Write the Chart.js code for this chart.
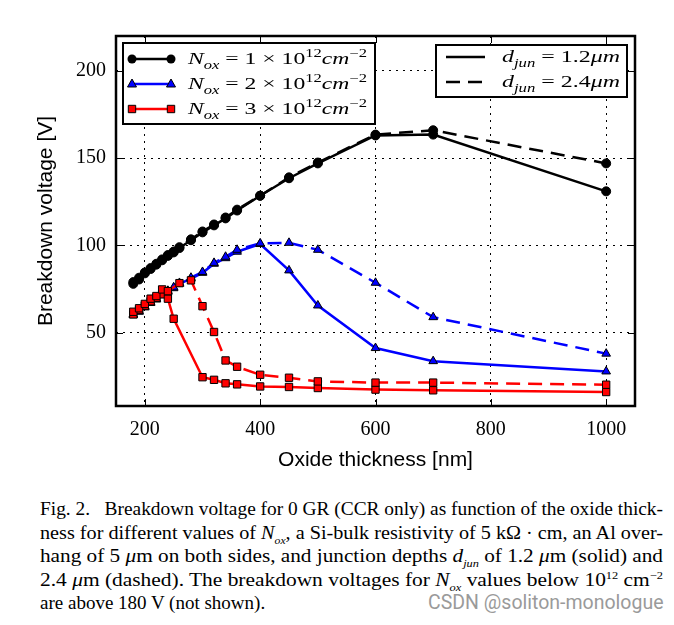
<!DOCTYPE html>
<html>
<head>
<meta charset="utf-8">
<script src="https://cdn.jsdelivr.net/npm/chart.js@4.4.0/dist/chart.umd.min.js"></script>
<style>
  body { margin: 0; background: #fff; width: 674px; height: 625px; overflow: hidden; position: relative; }
  #wrap { position: absolute; left: 0; top: 0; width: 674px; height: 480px; }
  #caption { position: absolute; left: 40px; top: 497px; width: 623px; font-family: 'Liberation Serif', serif; font-size: 19px; line-height: 23.5px; color: #000; }
  #caption div { white-space: nowrap; }
  #caption .j { display: inline-block; transform-origin: 0 0; }
  #caption i { font-style: italic; }
  #caption sub, #caption sup { font-size: 11px; line-height: 0; }
  #mark { position: absolute; left: 428px; top: 591px; font-family: 'Roboto', 'Liberation Sans', sans-serif; font-size: 19.5px; color: #9a9a9a; }
</style>
</head>
<body>
<div id="wrap"><canvas id="chart" width="674" height="480"></canvas></div>
<div id="caption">
  <div><span class="j">Fig. 2.&nbsp;&nbsp; Breakdown voltage for 0 GR (CCR only) as function of the oxide thick-</span></div>
  <div><span class="j">ness for different values of <i>N</i><sub><i>ox</i></sub>, a Si-bulk resistivity of 5 kΩ · cm, an Al over-</span></div>
  <div><span class="j">hang of 5 <i>μ</i>m on both sides, and junction depths <i>d</i><sub><i>jun</i></sub> of 1.2 <i>μ</i>m (solid) and</span></div>
  <div><span class="j">2.4 <i>μ</i>m (dashed). The breakdown voltages for <i>N</i><sub><i>ox</i></sub> values below 10<sup>12</sup> cm<sup>−2</sup></span></div>
  <div>are above 180 V (not shown).</div>
</div>
<div id="mark">CSDN @soliton-monologue</div>
<script>
  // oxide thickness [nm]
  const xAll = [180, 190, 200, 210, 220, 230, 240, 250, 260, 280, 300, 320, 340, 360, 400, 450, 500, 600, 700, 1000];
  const xRedSolid = [180, 190, 200, 210, 220, 230, 240, 250, 300, 320, 340, 360, 400, 450, 500, 600, 700, 1000];
  const xRedDashed = [180, 190, 200, 210, 220, 230, 240, 260, 280, 300, 320, 340, 360, 400, 450, 500, 600, 700, 1000];

  // breakdown voltage [V]
  const nox1Solid  = [78, 80.5, 84, 86.5, 89, 91.5, 94, 96, 98.5, 103, 107.5, 111.5, 115.5, 120, 128.5, 138.5, 147, 163, 163.5, 131];
  const nox1Dashed = [79, 81.5, 84.5, 87, 89.5, 92, 94.5, 96.5, 99, 103.5, 108, 112, 116, 120.5, 128.5, 139, 147.5, 163.5, 166, 147];
  const nox2Solid  = [60, 62, 64.5, 67, 69, 71.5, 73.5, 75.5, 78, 81, 84.3, 89.5, 92.7, 96.4, 100.8, 85.7, 65.6, 41.2, 33.7, 27.8];
  const nox2Dashed = [60.5, 62.5, 65, 67.5, 69.5, 72, 74, 76, 78.5, 81.5, 84.8, 90, 93.5, 97.5, 101.2, 101.5, 97.5, 78.6, 58.9, 38];
  const nox3Solid  = [60.5, 63, 65.5, 68, 70, 72, 69.5, 58, 24.5, 23, 21, 20.4, 19.2, 18.9, 18.3, 17.4, 17, 16];
  const nox3Dashed = [62, 64, 66.5, 69.5, 71, 74.8, 73.8, 78.4, 80, 65.2, 50.4, 34.1, 30.5, 25.9, 24.2, 22.1, 21.4, 21.4, 20.2];

  const xTicks = [200, 400, 600, 800, 1000];
  const yTicks = [50, 100, 150, 200];

  // legend texts (math parts)
  const noxLabels = ['1', '2', '3'];
  const djunLabels = ['1.2', '2.4'];

  // stretch justified caption lines to the full width
  document.querySelectorAll('#caption .j').forEach(el => {
    const w = el.getBoundingClientRect().width;
    el.style.transform = 'scaleX(' + (623 / w) + ')';
  });

  const pts = (xs, ys) => xs.map((x, i) => ({ x: x, y: ys[i] }));
  const dash = [14, 8];

  function series(data, color, style, fill, radius, dashed) {
    return {
      data: data,
      borderColor: color,
      borderWidth: 2.5,
      borderDash: dashed ? dash : [],
      pointStyle: style,
      pointRadius: radius,
      pointBackgroundColor: fill,
      pointBorderColor: '#000',
      pointBorderWidth: 1,
      tension: 0,
      fill: false
    };
  }

  // first in list = drawn on top
  const datasets = [
    series(pts(xRedDashed, nox3Dashed), '#ff0000', 'rect', '#ff0000', 5.2, true),
    series(pts(xRedSolid, nox3Solid), '#ff0000', 'rect', '#ff0000', 5.2, false),
    series(pts(xAll, nox2Dashed), '#0000ff', 'triangle', '#0000ff', 5, true),
    series(pts(xAll, nox2Solid), '#0000ff', 'triangle', '#0000ff', 5, false),
    series(pts(xAll, nox1Dashed), '#000', 'circle', '#000', 4.5, true),
    series(pts(xAll, nox1Solid), '#000', 'circle', '#000', 4.5, false)
  ];

  function drawRich(ctx, parts, x, y, size, width) {
    let w = 0;
    parts.forEach(p => {
      const s = (p.sub || p.sup) ? size * 0.7 : size;
      ctx.font = (p.it ? 'italic ' : '') + s + 'px "Liberation Serif"';
      w += ctx.measureText(p.t).width;
    });
    ctx.save();
    ctx.translate(x, y);
    ctx.scale(width / w, 1);
    let cx = 0;
    parts.forEach(p => {
      const s = (p.sub || p.sup) ? size * 0.7 : size;
      ctx.font = (p.it ? 'italic ' : '') + s + 'px "Liberation Serif"';
      const dy = p.sub ? size * 0.32 : (p.sup ? -size * 0.42 : 0);
      ctx.fillText(p.t, cx, dy);
      cx += ctx.measureText(p.t).width;
    });
    ctx.restore();
  }

  function marker(ctx, style, x, y) {
    ctx.beginPath();
    if (style === 'circle') {
      ctx.arc(x, y, 4.5, 0, Math.PI * 2);
      ctx.fillStyle = '#000';
      ctx.fill();
      return;
    }
    if (style === 'triangle') {
      ctx.moveTo(x, y - 5);
      ctx.lineTo(x + 4.5, y + 3);
      ctx.lineTo(x - 4.5, y + 3);
      ctx.closePath();
      ctx.fillStyle = '#0000ff';
    } else {
      ctx.rect(x - 3.7, y - 3.7, 7.4, 7.4);
      ctx.fillStyle = '#ff0000';
    }
    ctx.fill();
    ctx.lineWidth = 1;
    ctx.strokeStyle = '#000';
    ctx.stroke();
  }

  const frame = {
    id: 'frame',
    afterDatasetsDraw(chart) {
      const { ctx, chartArea: a, scales: { x, y } } = chart;
      ctx.save();
      ctx.strokeStyle = '#000';
      ctx.lineWidth = 1;
      ctx.beginPath();
      xTicks.forEach(v => {
        const px = Math.round(x.getPixelForValue(v)) + 0.5;
        ctx.moveTo(px, a.bottom); ctx.lineTo(px, a.bottom - 7);
        ctx.moveTo(px, a.top); ctx.lineTo(px, a.top + 7);
      });
      yTicks.forEach(v => {
        const py = Math.round(y.getPixelForValue(v)) + 0.5;
        ctx.moveTo(a.left, py); ctx.lineTo(a.left + 7, py);
        ctx.moveTo(a.right, py); ctx.lineTo(a.right - 7, py);
      });
      ctx.stroke();
      ctx.lineWidth = 2.5;
      ctx.strokeRect(a.left, a.top, a.right - a.left, a.bottom - a.top);

      // legend for N_ox
      ctx.fillStyle = '#fff';
      ctx.fillRect(123, 43, 252, 81);
      ctx.lineWidth = 2;
      ctx.strokeRect(123, 43, 252, 81);
      const colors = ['#000', '#0000ff', '#ff0000'];
      const styles = ['circle', 'triangle', 'rect'];
      const rows = [59, 84, 109];
      noxLabels.forEach((n, i) => {
        ctx.strokeStyle = colors[i];
        ctx.lineWidth = 2.5;
        ctx.setLineDash([]);
        ctx.beginPath();
        ctx.moveTo(132, rows[i]); ctx.lineTo(171, rows[i]);
        ctx.stroke();
        marker(ctx, styles[i], 132, rows[i]);
        marker(ctx, styles[i], 171, rows[i]);
        ctx.fillStyle = '#000';
        drawRich(ctx, [
          { t: 'N', it: true }, { t: 'ox', it: true, sub: true },
          { t: ' = ' + n + ' × 10' }, { t: '12', sup: true },
          { t: 'cm', it: true }, { t: '−2', sup: true }
        ], 188, rows[i] + 5, 17, 179);
      });

      // legend for d_jun
      ctx.fillStyle = '#fff';
      ctx.fillRect(436, 45, 191, 52);
      ctx.strokeStyle = '#000';
      ctx.lineWidth = 2;
      ctx.strokeRect(436, 45, 191, 52);
      const rows2 = [57, 82];
      djunLabels.forEach((d, i) => {
        ctx.strokeStyle = '#000';
        ctx.lineWidth = 2.5;
        ctx.setLineDash(i === 1 ? dash : []);
        ctx.beginPath();
        ctx.moveTo(446, rows2[i]); ctx.lineTo(485, rows2[i]);
        ctx.stroke();
        ctx.setLineDash([]);
        ctx.fillStyle = '#000';
        drawRich(ctx, [
          { t: 'd', it: true }, { t: 'jun', it: true, sub: true },
          { t: ' = ' + d }, { t: 'μm', it: true }
        ], 502, rows2[i] + 5, 17, 118);
      });
      ctx.restore();
    }
  };

  new Chart(document.getElementById('chart'), {
    type: 'line',
    data: { datasets: datasets },
    options: {
      responsive: false,
      animation: false,
      devicePixelRatio: 1,
      events: [],
      layout: { padding: { left: 0, top: 36, right: 39, bottom: 0 } },
      plugins: { legend: { display: false }, tooltip: { enabled: false } },
      scales: {
        x: {
          type: 'linear',
          min: 150,
          max: 1050,
          afterBuildTicks: s => { s.ticks = xTicks.map(v => ({ value: v })); },
          afterFit: s => { s.height = 74; },
          grid: { color: '#000', lineWidth: 1, drawTicks: false },
          border: { display: false, dash: [2, 5] },
          ticks: { color: '#000', padding: 12, maxRotation: 0, callback: v => String(v), font: { family: 'Liberation Serif', size: 20 } },
          title: { display: true, text: 'Oxide thickness [nm]', color: '#000', padding: { bottom: 7 }, font: { family: 'Liberation Sans', size: 21 } }
        },
        y: {
          min: 8,
          max: 220,
          afterBuildTicks: s => { s.ticks = yTicks.map(v => ({ value: v })); },
          afterFit: s => { s.width = 116; },
          grid: { color: '#000', lineWidth: 1, drawTicks: false },
          border: { display: false, dash: [2, 5] },
          ticks: { color: '#000', padding: 10, callback: v => String(v), font: { family: 'Liberation Serif', size: 20 } },
          title: { display: true, text: 'Breakdown voltage [V]', color: '#000', padding: { top: 34 }, font: { family: 'Liberation Sans', size: 21 } }
        }
      }
    },
    plugins: [frame]
  });
</script>
</body>
</html>
